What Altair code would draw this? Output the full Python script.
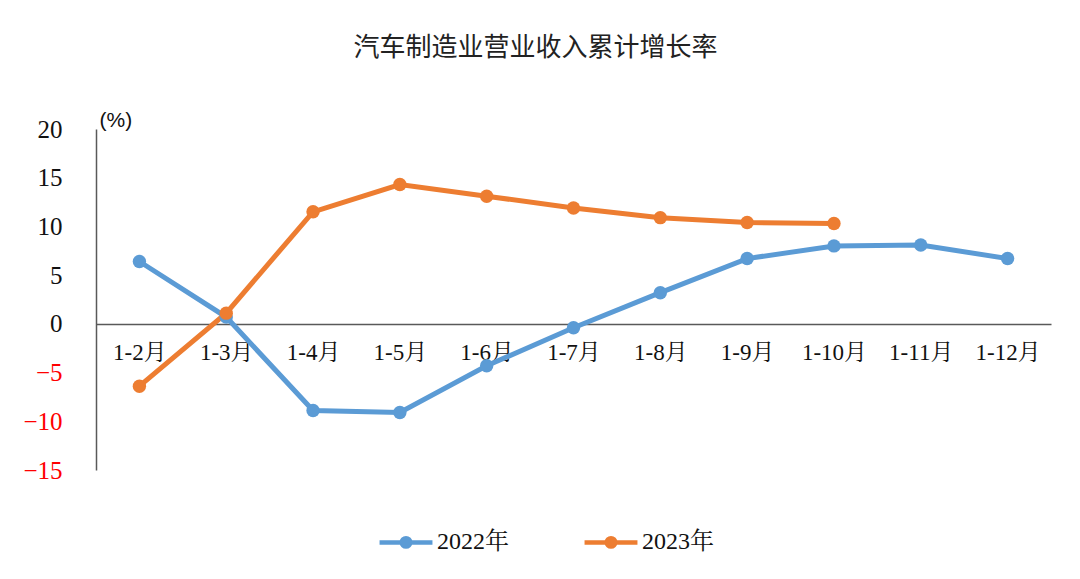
import altair as alt
import pandas as pd

months = ["1-2月", "1-3月", "1-4月", "1-5月", "1-6月", "1-7月", "1-8月", "1-9月", "1-10月", "1-11月", "1-12月"]
v2022 = [6.4, 0.7, -8.9, -9.1, -4.3, -0.4, 3.2, 6.7, 8.0, 8.1, 6.7]
v2023 = [-6.4, 1.1, 11.5, 14.3, 13.1, 11.9, 10.9, 10.4, 10.3]

rows = []
for m, v in zip(months, v2022):
    rows.append({"month": m, "value": v, "series": "2022年"})
for m, v in zip(months, v2023):
    rows.append({"month": m, "value": v, "series": "2023年"})
df = pd.DataFrame(rows)

FONT = "Liberation Serif, Noto Serif CJK SC, Noto Sans CJK SC"
TFONT = "Noto Sans CJK SC"
colors = ["#5B9BD5", "#ED7D31"]

sym = ("M-1,0L1,0 "
       "M-0.16,0A0.16,0.16 0 1,0 0.16,0A0.16,0.16 0 1,0 -0.16,0 "
       "M-0.08,0A0.08,0.08 0 1,0 0.08,0A0.08,0.08 0 1,0 -0.08,0 "
       "M-0.02,0A0.02,0.02 0 1,0 0.02,0A0.02,0.02 0 1,0 -0.02,0")

x = alt.X("month:N", sort=months, scale=alt.Scale(type="point", padding=0.5),
          axis=alt.Axis(title=None, offset=-146, labelPadding=17, ticks=False,
                        domainColor="#595959", domainWidth=1.5, labelFont=FONT,
                        labelFontSize=23, labelColor="#111111", labelAngle=0))
y = alt.Y("value:Q", scale=alt.Scale(domain=[-15, 20], nice=False),
          axis=alt.Axis(values=[-15, -10, -5, 0, 5, 10, 15, 20], grid=False, ticks=False,
                        domainColor="#595959", domainWidth=1.5, labelPadding=34,
                        labelFont=FONT, labelFontSize=25,
                        labelColor=alt.ExprRef("datum.value < 0 ? '#FF0000' : '#111111'"),
                        labelExpr="datum.value < 0 ? '−' + abs(datum.value) : datum.label",
                        title="(%)", titleAngle=0, titleX=3, titleY=1, titleAlign="left",
                        titleFont="Liberation Sans Narrow, Liberation Sans", titleFontSize=21,
                        titleFontWeight="normal", titleColor="#111111"))
color = alt.Color("series:N", scale=alt.Scale(domain=["2022年", "2023年"], range=colors),
                  legend=alt.Legend(title=None, orient="none", direction="horizontal",
                                    legendX=281, legendY=384, symbolType=sym,
                                    symbolSize=2800, symbolStrokeWidth=4.5,
                                    labelFont=FONT, labelFontSize=24, labelColor="#111111",
                                    columnPadding=66, labelOffset=2))

line = alt.Chart(df).mark_line(strokeWidth=5).encode(x=x, y=y, color=color)
pts = alt.Chart(df).mark_point(filled=True, size=180, opacity=1).encode(
    x=x, y=y, color=alt.Color("series:N", scale=alt.Scale(domain=["2022年", "2023年"], range=colors), legend=None))

chart = (line + pts).properties(
    width=955, height=341,
    background="white",
    title=alt.TitleParams("汽车制造业营业收入累计增长率", font=TFONT, fontSize=26,
                          fontWeight="normal", color="#222222", offset=48, dx=-38),
    autosize=alt.AutoSizeParams(type="none"),
    padding={"left": 96, "top": 129, "right": 29, "bottom": 109},
).configure_view(strokeWidth=0)

chart.save("out.html", embed_options={"renderer": "svg", "actions": False})
